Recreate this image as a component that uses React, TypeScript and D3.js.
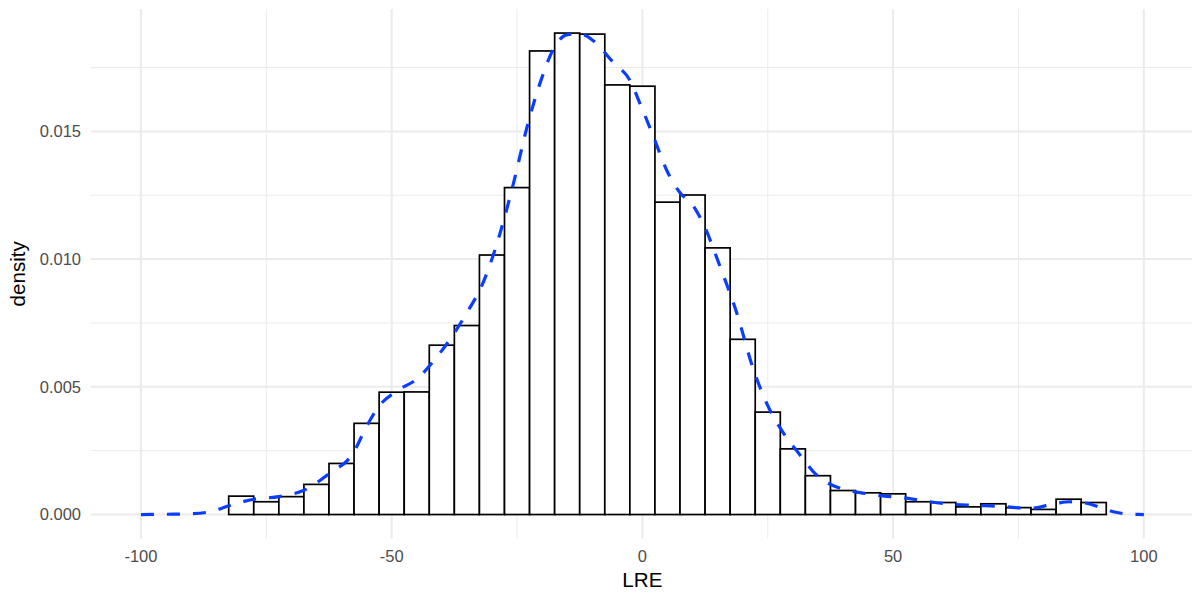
import React from "react";
import * as d3 from "d3";

const binCenters = [-80, -75, -70, -65, -60, -55, -50, -45, -40, -35, -30, -25, -20, -15, -10, -5, 0, 5, 10, 15, 20, 25, 30, 35, 40, 45, 50, 55, 60, 65, 70, 75, 80, 85, 90];
const binDensity = [0.00072, 0.0005, 0.0007, 0.00118, 0.002, 0.00357, 0.00479, 0.0048, 0.00663, 0.0074, 0.01016, 0.0128, 0.01815, 0.01885, 0.01881, 0.01682, 0.01677, 0.01223, 0.01251, 0.01044, 0.00686, 0.00401, 0.00257, 0.00152, 0.00094, 0.00085, 0.00081, 0.0005, 0.00047, 0.0003, 0.00042, 0.00027, 0.0002, 0.0006, 0.00047];
const binWidth = 5;

const densX = [-100, -95, -90, -86.4, -82.3, -77.5, -72.5, -67.5, -62.5, -57.7, -55, -52.7, -48.4, -45, -41.7, -38.4, -34.4, -32.4, -28.4, -25.8, -23.1, -20.4, -17.8, -15.1, -12.5, -9.8, -5.8, -2.5, -0.5, 2.2, 4.8, 7.5, 10.1, 12.1, 15.5, 18.8, 22.1, 25.4, 28.1, 31.4, 34.7, 39.4, 43.4, 48, 52.7, 57.3, 61.3, 66.6, 71.9, 77.3, 82.6, 85.2, 88.6, 93.9, 97.2, 100];
const densY = [0, 0.00001, 0.00003, 0.0001, 0.00035, 0.0006, 0.0007, 0.00095, 0.0016, 0.0024, 0.00345, 0.0042, 0.0049, 0.0053, 0.006, 0.00685, 0.0081, 0.0088, 0.011, 0.0129, 0.0151, 0.0169, 0.0182, 0.01878, 0.01882, 0.01855, 0.0177, 0.017, 0.0161, 0.0148, 0.0135, 0.0126, 0.0121, 0.0114, 0.0097, 0.0079, 0.0057, 0.0041, 0.0032, 0.00234, 0.00155, 0.00103, 0.00086, 0.00073, 0.00064, 0.0005, 0.00041, 0.00036, 0.00031, 0.00024, 0.00044, 0.0005, 0.00044, 0.00011, 0.00001, 0];

const xMajor = [-100, -50, 0, 50, 100];
const xMinor = [-75, -25, 25, 75];
const yMajor = [0, 0.005, 0.01, 0.015];
const yMinor = [0.0025, 0.0075, 0.0125, 0.0175];

export default function App() {
  const W = 1192, H = 594;
  const left = 90.8, right = 1194, top = 9, bottom = 538.6;
  const x = d3.scaleLinear().domain([-110, 110]).range([left, right]);
  const yMax = 0.01885;
  const y = d3.scaleLinear().domain([-yMax * 0.05, yMax * 1.05]).range([bottom, top]);
  const line = d3.line<number>()
    .x((_, i) => x(densX[i]))
    .y((d) => y(d))
    .curve(d3.curveMonotoneX);
  const grid = "#EBEBEB";
  const font = "'Liberation Sans', Arial, Helvetica, sans-serif";
  return (
    <svg width={W} height={H} style={{ position: "absolute", left: 0, top: 0, background: "#fff" }}>
      <g>
        {yMinor.map((v) => (
          <line key={"ym" + v} x1={left} x2={right} y1={y(v)} y2={y(v)} stroke={grid} strokeWidth={1} />
        ))}
        {xMinor.map((v) => (
          <line key={"xm" + v} x1={x(v)} x2={x(v)} y1={top} y2={bottom} stroke={grid} strokeWidth={1} />
        ))}
        {yMajor.map((v) => (
          <line key={"yM" + v} x1={left} x2={right} y1={y(v)} y2={y(v)} stroke={grid} strokeWidth={2} />
        ))}
        {xMajor.map((v) => (
          <line key={"xM" + v} x1={x(v)} x2={x(v)} y1={top} y2={bottom} stroke={grid} strokeWidth={2} />
        ))}
      </g>
      <g>
        {binCenters.map((c, i) => (
          <rect
            key={"b" + c}
            x={x(c - binWidth / 2)}
            y={y(binDensity[i])}
            width={x(c + binWidth / 2) - x(c - binWidth / 2)}
            height={y(0) - y(binDensity[i])}
            fill="#fff"
            stroke="#000"
            strokeWidth={1.7}
          />
        ))}
      </g>
      <path d={line(densY) || ""} fill="none" stroke="#0a3dff" strokeWidth={3.2} strokeDasharray="13 13" />
      <g fontFamily={font} fontSize={16.5} fill="#4D4D4D">
        {xMajor.map((v) => (
          <text key={"xt" + v} x={x(v)} y={562} textAnchor="middle">{v}</text>
        ))}
        {yMajor.map((v) => (
          <text key={"yt" + v} x={81} y={y(v)} dy="0.36em" textAnchor="end">{d3.format(".3f")(v)}</text>
        ))}
      </g>
      <text x={(x(-100) + x(100)) / 2} y={586.5} textAnchor="middle" fontFamily={font} fontSize={20.6} fill="#000">LRE</text>
      <text transform={`translate(25,${(top + bottom) / 2}) rotate(-90)`} textAnchor="middle" fontFamily={font} fontSize={20.6} fill="#000">density</text>
    </svg>
  );
}
